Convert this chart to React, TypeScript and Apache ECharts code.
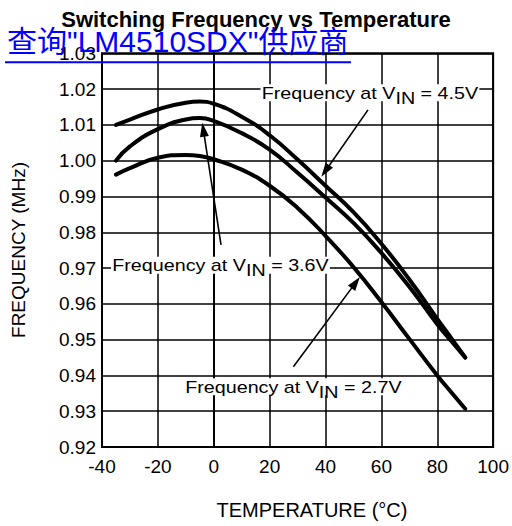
import React, { useEffect, useRef } from "react";
import * as echarts from "echarts";

// Data
const temps = [-35, -30, -20, -10, -5, 0, 10, 20, 30, 40, 50, 60, 70, 80, 85, 90];
const freq45 = [1.0100, 1.0115, 1.0143, 1.0162, 1.0165, 1.0159, 1.0123, 1.0071, 1.0003, 0.9930, 0.9856, 0.9768, 0.9668, 0.9558, 0.9504, 0.9450];
const freq36 = [1.0000, 1.0040, 1.0088, 1.0115, 1.0119, 1.0111, 1.0077, 1.0031, 0.9966, 0.9897, 0.9826, 0.9742, 0.9648, 0.9543, 0.9496, 0.9450];
const freq27 = [0.9961, 0.9979, 1.0008, 1.0016, 1.0013, 1.0004, 0.9975, 0.9930, 0.9868, 0.9790, 0.9703, 0.9605, 0.9502, 0.9400, 0.9353, 0.9307];

const xTicks = { min: -40, max: 100, interval: 20 };
const yTicks = { min: 0.92, max: 1.03, interval: 0.01 };

const title = "Switching Frequency vs Temperature";
const linkText = '查询"LM4510SDX"供应商';
const xName = "TEMPERATURE (°C)";
const yName = "FREQUENCY (MHz)";

// Annotations (data coordinates)
const labelVoltages = ["4.5V", "3.6V", "2.7V"];
const labelAnchors = [[55.9, 1.019], [2.4, 0.9708], [28.5, 0.9368]];
const arrowFrom = [[55.2, 1.0142], [2.6, 0.9765], [28.5, 0.9424]];
const arrowTo = [[38.5, 0.9955], [-4.1, 1.0106], [52.3, 0.9675]];

const FONT = "'Liberation Sans', Arial, Helvetica, sans-serif";

export default function App() {
  const ref = useRef<HTMLDivElement>(null);

  useEffect(() => {
    if (!ref.current) return;
    const chart = echarts.init(ref.current, null, { renderer: "svg" });

    const mk = (arr: number[]) => temps.map((t, i) => [t, arr[i]]);
    const lineSeries = (name: string, arr: number[]) => ({
      name,
      type: "line",
      data: mk(arr),
      smooth: 0.5,
      symbol: "none",
      showSymbol: false,
      lineStyle: { color: "#000", width: 4, cap: "round", join: "round" },
      z: 3,
    });

    chart.setOption({
      animation: false,
      grid: {
        left: 102,
        right: 15.5,
        top: 53.3,
        bottom: 79,
        show: true,
        borderColor: "#000",
        borderWidth: 2,
      },
      xAxis: {
        type: "value",
        min: xTicks.min,
        max: xTicks.max,
        interval: xTicks.interval,
        axisLine: { show: true, lineStyle: { color: "#000", width: 2 } },
        axisTick: { show: false },
        splitLine: { show: true, lineStyle: { color: "#000", width: 1.5 } },
        axisLabel: { color: "#000", fontSize: 19, fontFamily: FONT, margin: 10 },
      },
      yAxis: {
        type: "value",
        min: yTicks.min,
        max: yTicks.max,
        interval: yTicks.interval,
        axisLine: { show: true, lineStyle: { color: "#000", width: 2 } },
        axisTick: { show: false },
        splitLine: { show: true, lineStyle: { color: "#000", width: 1.5 } },
        axisLabel: {
          color: "#000",
          fontSize: 19,
          fontFamily: FONT,
          margin: 6,
          formatter: (v: number) => v.toFixed(2),
        },
      },
      series: [
        lineSeries("4.5V", freq45),
        lineSeries("3.6V", freq36),
        lineSeries("2.7V", freq27),
      ],
    });

    const px = (p: number[]) => chart.convertToPixel({ gridIndex: 0 }, p) as number[];

    const graphics: any[] = [];

    // Title
    graphics.push({
      type: "text",
      x: 256,
      y: 19,
      z: 10,
      style: {
        text: title,
        font: `bold 22px ${FONT}`,
        fill: "#000",
        align: "center",
        verticalAlign: "middle",
      },
    });

    // Axis names
    graphics.push({
      type: "text",
      x: 312,
      y: 510,
      z: 10,
      style: {
        text: xName,
        font: `20px ${FONT}`,
        fill: "#000",
        align: "center",
        verticalAlign: "middle",
      },
    });
    graphics.push({
      type: "text",
      x: 18,
      y: 250,
      rotation: Math.PI / 2,
      z: 10,
      style: {
        text: yName,
        font: `19px ${FONT}`,
        fill: "#000",
        align: "center",
        verticalAlign: "middle",
      },
    });

    // Annotations: arrows and labels
    for (let i = 0; i < labelVoltages.length; i++) {
      const s = px(arrowFrom[i]);
      const e = px(arrowTo[i]);
      const dx = e[0] - s[0];
      const dy = e[1] - s[1];
      const len = Math.sqrt(dx * dx + dy * dy);
      const ux = dx / len;
      const uy = dy / len;
      const L = 14;
      const W = 4.5;
      const bx = e[0] - ux * L;
      const by = e[1] - uy * L;
      graphics.push({
        type: "line",
        z: 8,
        shape: { x1: s[0], y1: s[1], x2: bx + ux * 2, y2: by + uy * 2 },
        style: { stroke: "#000", lineWidth: 1.6 },
      });
      graphics.push({
        type: "polygon",
        z: 8,
        shape: {
          points: [
            [e[0], e[1]],
            [bx - uy * W, by + ux * W],
            [bx + uy * W, by - ux * W],
          ],
        },
        style: { fill: "#000" },
      });

      const a = px(labelAnchors[i]);
      graphics.push({
        type: "text",
        x: a[0],
        y: a[1],
        scaleX: 1.16,
        z: 9,
        style: {
          text: `{a|Frequency at V}{s|IN}{a| = ${labelVoltages[i]}}`,
          fontSize: 17,
          fontFamily: FONT,
          fill: "#000",
          align: "center",
          verticalAlign: "middle",
          backgroundColor: "#fff",
          padding: [0, 1, 0, 1],
          rich: {
            a: { fontSize: 17, fontFamily: FONT, fill: "#000", lineHeight: 17, verticalAlign: "top" },
            s: {
              fontSize: 17,
              fontFamily: FONT,
              fill: "#000",
              lineHeight: 17,
              verticalAlign: "top",
              padding: [5, 0, 0, 0],
            },
          },
        },
      });
    }

    // Blue link overlay text
    graphics.push({
      type: "text",
      x: 7,
      y: 41.5,
      z: 20,
      style: {
        text: linkText,
        font: `30px ${FONT}, 'Noto Sans CJK SC'`,
        fill: "#0000ff",
        align: "left",
        verticalAlign: "middle",
      },
    });
    graphics.push({
      type: "line",
      z: 20,
      shape: { x1: 5, y1: 62.3, x2: 351, y2: 62.3 },
      style: { stroke: "#0000ff", lineWidth: 2 },
    });

    chart.setOption({ graphic: graphics });

    return () => chart.dispose();
  }, []);

  return (
    <div
      ref={ref}
      style={{ position: "fixed", left: 0, top: 0, width: 512, height: 526, background: "#fff" }}
    />
  );
}
